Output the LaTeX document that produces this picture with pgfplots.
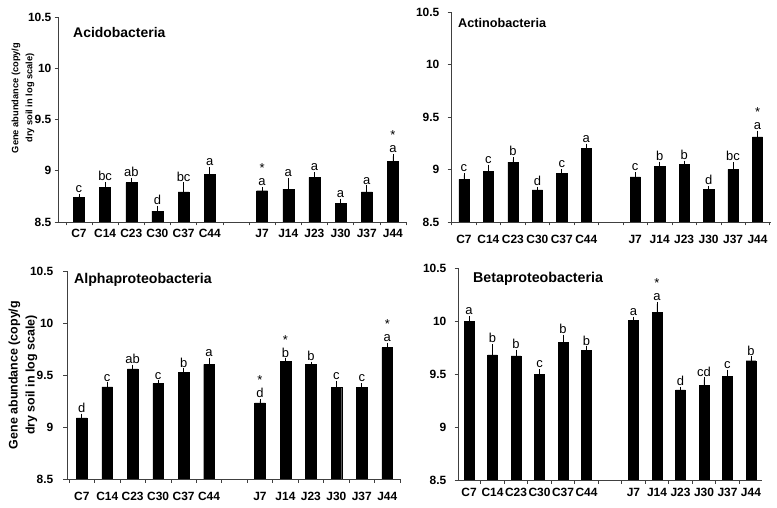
\documentclass[border=0pt]{standalone}
\usepackage{fontspec}
\setmainfont{Liberation Sans}
\usepackage{pgfplots}
\usepackage{pgfplotstable}
\pgfplotsset{compat=1.18}
\DeclareRobustCommand\sa[1]{\shortstack{*\\\rule{0pt}{10bp}#1}}

\pgfplotstableread{
x y e lab
0 8.74 0.01 c
1 8.84 0.03 bc
2 8.885 0.026 ab
3 8.605 0.03 d
4 8.795 0.07 bc
5 8.965 0.05 a
7 8.805 0.015 \sa{a}
8 8.82 0.09 a
9 8.935 0.03 a
10 8.68 0.026 a
11 8.795 0.04 a
12 9.09 0.05 \sa{a}
}\acido
\pgfplotstableread{
x y e lab
0 8.905 0.04 c
1 8.98 0.045 c
2 9.07 0.025 b
3 8.805 0.01 d
4 8.963 0.02 c
5 9.20 0.025 a
7 8.93 0.025 c
8 9.033 0.02 b
9 9.05 0.013 b
10 8.81 0.01 d
11 9.00 0.05 bc
12 9.31 0.04 \sa{a}
}\actino
\pgfplotstableread{
x y e lab
0 9.087 0.02 d
1 9.387 0.02 c
2 9.558 0.02 ab
3 9.42 0.007 c
4 9.526 0.016 b
5 9.603 0.04 a
7 9.232 0.016 \sa{d}
8 9.632 0.006 \sa{b}
9 9.603 0.004 b
10 9.384 0.035 c
11 9.38 0.02 c
12 9.764 0.025 \sa{a}
}\alphap
\pgfplotstableread{
x y e lab
0 9.994 0.03 a
1 9.68 0.08 b
2 9.67 0.04 b
3 9.494 0.03 c
4 9.80 0.05 b
5 9.72 0.02 b
7 10.006 0.015 a
8 10.08 0.08 \sa{a}
9 9.35 0.01 d
10 9.39 0.057 cd
11 9.48 0.04 c
12 9.625 0.02 b
}\betap

\pgfplotsset{
  panel/.style={
    scale only axis,
    anchor=south west,
    ymin=8.5, ymax=10.5,
    axis x line*=bottom, axis y line*=left,
    axis line style={-, black!75, line width=0.6bp},
    tick align=outside,
    major tick length=3.5bp,
    tick style={black!75, line width=0.6bp},
    ytick={8.5,9,9.5,10,10.5},
    yticklabels={8.5,9,9.5,10,10.5},
    xtick={-0.5,0.5,...,12.5},
    xticklabels={},
    extra x ticks={0,1,2,3,4,5,7,8,9,10,11,12},
    extra x tick labels={C7,C14,C23,C30,C37,C44,J7,J14,J23,J30,J37,J44},
    extra x tick style={major tick length=0pt},
    ticklabel style={font=\bfseries\fontsize{12}{12}\selectfont},
    xticklabel style={anchor=north, inner sep=0pt},
    yticklabel style={anchor=east, inner sep=0pt},
  },
  bars/.style={ybar, bar width=0.42, fill=black, draw=black,
    error bars/.cd, y dir=plus, y explicit,
    error bar style={black, line width=0.7bp},
    error mark options={black, mark size=2.2bp, line width=0.7bp}},
  labs/.style={draw=none, mark=none, nodes near coords, point meta=explicit symbolic,
    every node near coord/.append style={anchor=south, inner sep=3.2bp, font=\fontsize{13}{13}\selectfont}},
}

\begin{document}
\begin{tikzpicture}
\path[use as bounding box] (0bp,0bp) rectangle (777bp,508bp);

% Panel 1
\begin{axis}[panel, at={(58bp,286bp)}, width=348bp, height=205bp, xmin=-0.8, xmax=12.5,
  xticklabel style={yshift=-7bp}, yticklabel style={xshift=-3bp}]
\addplot[bars] table[x=x, y=y, y error=e] {\acido};
\addplot[labs] table[x=x, y expr=\thisrow{y}+\thisrow{e}, meta=lab] {\acido};
\end{axis}

% Panel 2
\begin{axis}[panel, at={(451bp,286bp)}, width=320bp, height=210bp, xmin=-0.53, xmax=12.55,
  xticklabel style={yshift=-13bp}, yticklabel style={xshift=-8bp}]
\addplot[bars] table[x=x, y=y, y error=e] {\actino};
\addplot[labs] table[x=x, y expr=\thisrow{y}+\thisrow{e}, meta=lab] {\actino};
\end{axis}

% Panel 3
\begin{axis}[panel, at={(67bp,29bp)}, width=333bp, height=208bp, xmin=-0.58, xmax=12.5,
  xticklabel style={yshift=-13bp}, yticklabel style={xshift=-10bp}]
\addplot[bars] table[x=x, y=y, y error=e] {\alphap};
\addplot[labs] table[x=x, y expr=\thisrow{y}+\thisrow{e}, meta=lab] {\alphap};
\end{axis}

% Panel 4
\begin{axis}[panel, at={(458bp,28bp)}, width=304bp, height=212bp, xmin=-0.47, xmax=12.47,
  xticklabel style={yshift=-8bp}, yticklabel style={xshift=-8bp}]
\addplot[bars] table[x=x, y=y, y error=e] {\betap};
\addplot[labs] table[x=x, y expr=\thisrow{y}+\thisrow{e}, meta=lab] {\betap};
\end{axis}

% titles
\node[anchor=west, inner sep=0pt, font=\bfseries\fontsize{14}{14}\selectfont] at (73bp,475bp) {Acidobacteria};
\node[anchor=west, inner sep=0pt, font=\bfseries\fontsize{12.7}{12.7}\selectfont] at (458bp,485bp) {Actinobacteria};
\node[anchor=west, inner sep=0pt, font=\bfseries\fontsize{14.2}{14.2}\selectfont] at (74bp,228bp) {Alphaproteobacteria};
\node[anchor=west, inner sep=0pt, font=\bfseries\fontsize{14.3}{14.3}\selectfont] at (473bp,229bp) {Betaproteobacteria};

% y labels
\node[rotate=90, align=center, inner sep=0pt, font=\bfseries\fontsize{9.3}{14}\selectfont] at (23bp,410bp) {Gene abundance (copy/g\\dry soil in log scale)};
\node[rotate=90, align=center, inner sep=0pt, font=\bfseries\fontsize{12.5}{17}\selectfont] at (23bp,133bp) {Gene abundance (copy/g\\dry soil in log scale)};
\end{tikzpicture}
\end{document}
